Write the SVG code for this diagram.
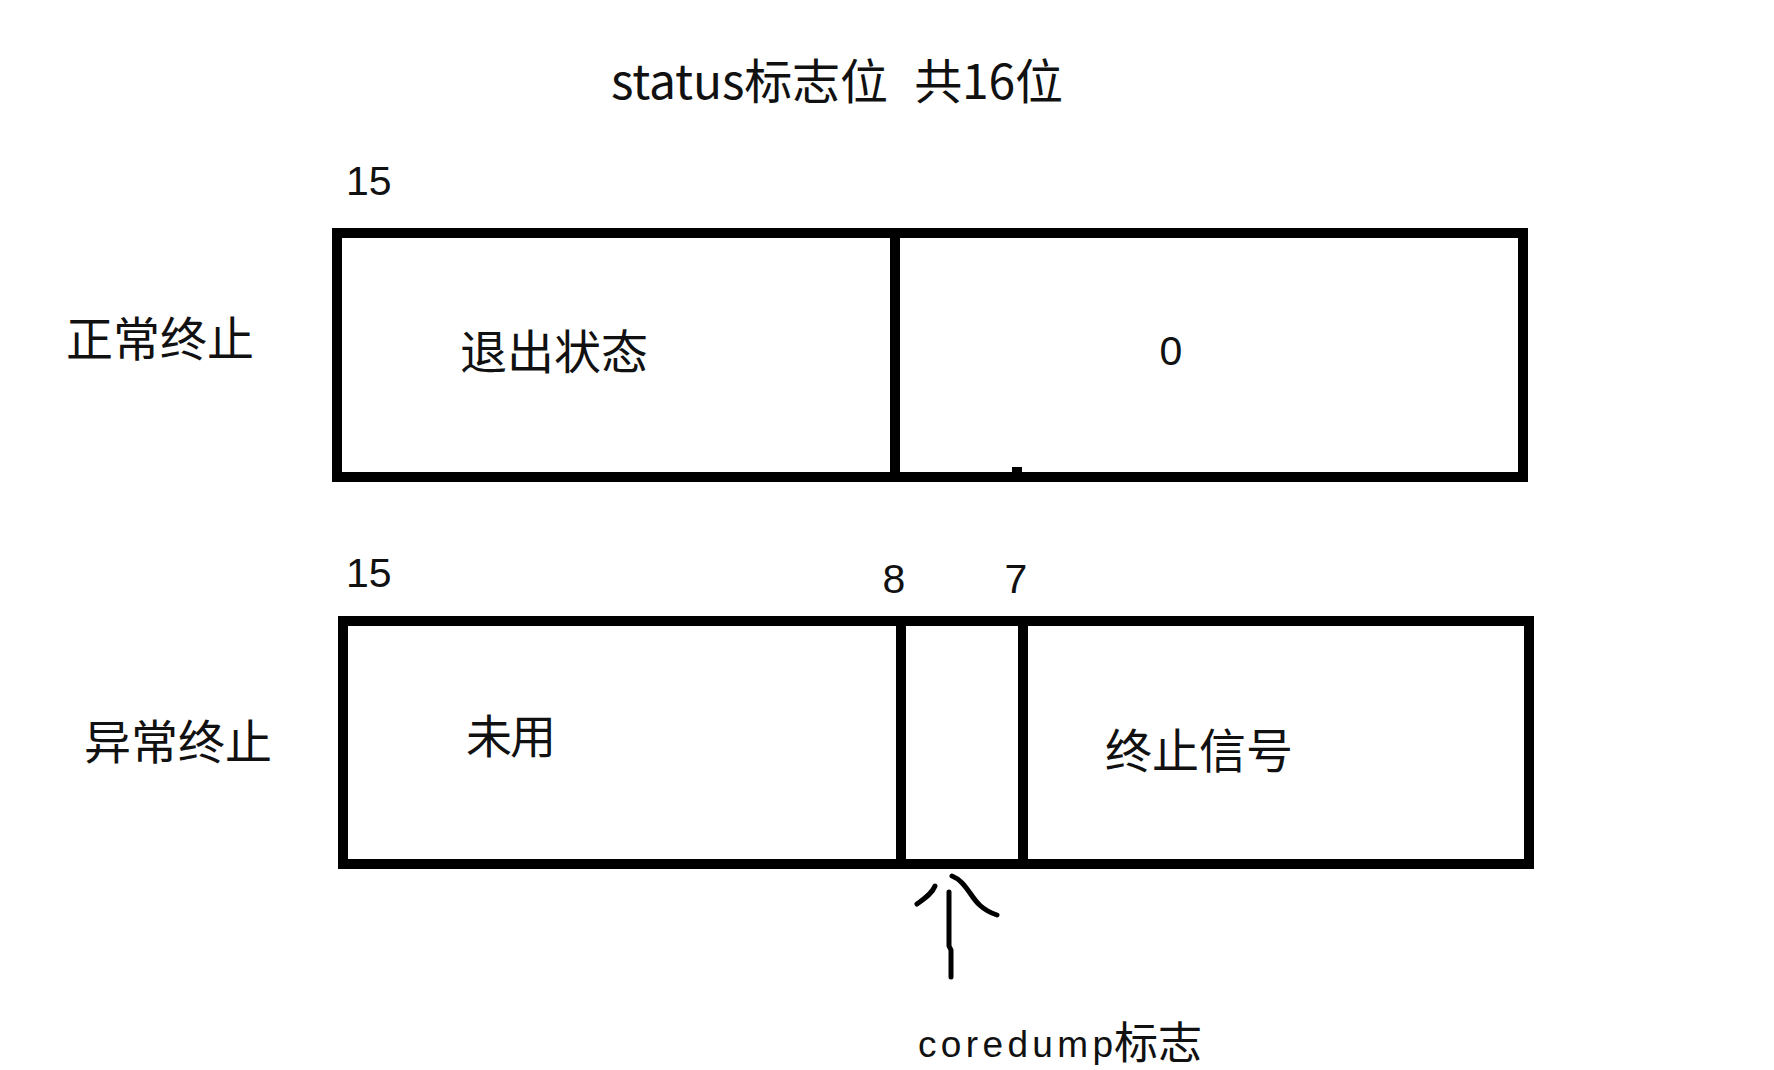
<svg xmlns="http://www.w3.org/2000/svg" width="1774" height="1070" viewBox="0 0 1774 1070">
<style>
.box{fill:none;stroke:#000;stroke-width:10}
.div{stroke:#000;stroke-width:10}
.cjk{font-family:"Noto Sans CJK SC","Noto Sans CJK JP",sans-serif;fill:#111}
.num{font-family:"Liberation Sans",Arial,sans-serif;font-size:41px;fill:#111}
.pen{fill:none;stroke:#000;stroke-width:5;stroke-linecap:round;stroke-linejoin:round}
</style>
<rect width="1774" height="1070" fill="#fff"/>
<g id="title">
<text class="cjk" x="611" y="99" font-size="48" word-spacing="16" textLength="452" lengthAdjust="spacing">status标志位 共16位</text>
</g>
<g id="normal">
<text class="cjk" x="66" y="356" font-size="47" textLength="188" lengthAdjust="spacing">正常终止</text>
<text class="num" x="346" y="195">15</text>
<rect class="box" x="337" y="233" width="1186" height="244"/>
<line class="div" x1="895" y1="233" x2="895" y2="477"/>
<rect x="1012" y="467" width="10" height="6" fill="#000"/>
<text class="cjk" x="460" y="369" font-size="47" textLength="188" lengthAdjust="spacing">退出状态</text>
<text class="num" x="1171" y="365" text-anchor="middle">0</text>
</g>
<g id="abnormal">
<text class="cjk" x="84" y="759" font-size="47" textLength="188" lengthAdjust="spacing">异常终止</text>
<text class="num" x="346" y="587">15</text>
<text class="num" x="894" y="593" text-anchor="middle">8</text>
<text class="num" x="1016" y="593" text-anchor="middle">7</text>
<rect class="box" x="343" y="621" width="1186" height="243"/>
<line class="div" x1="901" y1="621" x2="901" y2="864"/>
<line class="div" x1="1023" y1="621" x2="1023" y2="864"/>
<text class="cjk" x="466" y="753" font-size="46" textLength="90" lengthAdjust="spacing">未用</text>
<text class="cjk" x="1105" y="768" font-size="47" textLength="188" lengthAdjust="spacing">终止信号</text>
</g>
<g id="connectors">
<polyline class="pen" points="949,892 949,946 951,950 951,977"/>
<path class="pen" d="M917,904 C924,899 932,894 935,886"/>
<path class="pen" d="M952,876 C960,879 965,886 970,893 C976,902 982,910 997,915"/>
</g>
<g id="coredump">
<text class="cjk" y="1057"><tspan x="918" font-family="Liberation Sans, Arial, sans-serif" font-size="37" textLength="195" lengthAdjust="spacing">coredump</tspan><tspan x="1114" y="1059" font-size="44">标志</tspan></text>
</g>
</svg>
